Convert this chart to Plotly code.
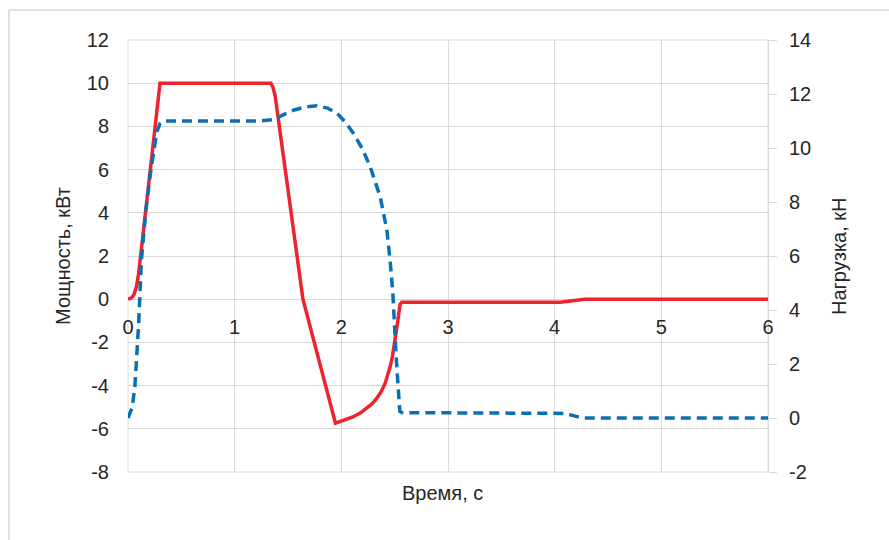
import plotly.graph_objects as go

# Power (kW) - left axis
t_power = [0, 0.03, 0.055, 0.08, 0.1, 0.2, 0.3, 1.34, 1.36, 1.38, 1.64, 1.945,
           2.03, 2.114, 2.18, 2.24, 2.29, 2.333, 2.375, 2.411, 2.437, 2.458, 2.478,
           2.495, 2.511, 2.526, 2.54, 2.552, 2.567, 4.05, 4.15, 4.28, 6.0]
power_kw = [0, 0.05, 0.2, 0.6, 1.2, 5.6, 10.0, 10.0, 9.8, 9.4, 0.0, -5.74,
            -5.6, -5.44, -5.26, -5.05, -4.84, -4.58, -4.27, -3.89, -3.52, -3.12, -2.68,
            -2.2, -1.68, -1.12, -0.62, -0.22, -0.14, -0.14, -0.08, 0.0, 0.0]

# Load (kN) - right axis
t_load = [0, 0.04, 0.065, 0.08, 0.1, 0.125, 0.165, 0.21, 0.27, 0.3, 0.33, 1.24, 1.37,
          1.45, 1.55, 1.66, 1.77, 1.87, 1.96, 2.04, 2.114, 2.2, 2.27, 2.364, 2.427,
          2.458, 2.483, 2.514, 2.548, 2.567, 4.0, 4.1, 4.2, 4.28, 6.0]
load_kn = [0, 0.4, 1.2, 2.1, 3.5, 5.8, 7.6, 9.05, 10.6, 10.9, 11.0, 11.0, 11.05,
           11.22, 11.4, 11.52, 11.56, 11.48, 11.28, 10.95, 10.54, 9.95, 9.31, 8.2, 6.96,
           5.8, 4.62, 2.27, 0.25, 0.2, 0.2, 0.17, 0.06, 0.0, 0.0]

x_ticks = [0, 1, 2, 3, 4, 5, 6]
y_left_ticks = [-8, -6, -4, -2, 0, 2, 4, 6, 8, 10, 12]
y_right_ticks = [-2, 0, 2, 4, 6, 8, 10, 12, 14]

FONT = "Liberation Sans"
TXT = "#262626"
GRID = "#d9d9d9"

fig = go.Figure()
fig.add_trace(go.Scatter(x=t_power, y=power_kw, mode="lines", yaxis="y",
                         line=dict(color="#ee2330", width=3.5), showlegend=False))
fig.add_trace(go.Scatter(x=t_load, y=load_kn, mode="lines", yaxis="y2",
                         line=dict(color="#0a70b4", width=3.5, dash="10px,6px"),
                         showlegend=False))

L, R, T, B = 128, 121, 40, 68
W, H = 889, 540
pw, ph = W - L - R, H - T - B

def px_x(p):
    return (p - L) / pw

def px_y(p):
    return (H - B - p) / ph

def lab(v):
    return str(v)  # plain hyphen-minus like the reference

fig.update_layout(
    width=W, height=H,
    margin=dict(l=L, r=R, t=T, b=B, pad=0),
    paper_bgcolor="white", plot_bgcolor="white",
    font=dict(family=FONT, size=20, color=TXT),
    xaxis=dict(range=[0, 6], tickvals=x_ticks, ticktext=[lab(v) for v in x_ticks],
               showgrid=True, gridcolor=GRID,
               gridwidth=1, zeroline=False, showline=False, ticks="",
               anchor="free", position=0.4, ticklabelstandoff=14,
               tickfont=dict(size=20, family=FONT, color=TXT)),
    yaxis=dict(range=[-8, 12], tickvals=y_left_ticks,
               ticktext=[lab(v) for v in y_left_ticks],
               showgrid=True, gridcolor=GRID,
               gridwidth=1, zeroline=False, showline=False, ticks="",
               ticklabelstandoff=18, tickfont=dict(size=20, family=FONT, color=TXT)),
    yaxis2=dict(range=[-2, 14], tickvals=y_right_ticks,
                ticktext=[lab(v) for v in y_right_ticks],
                overlaying="y", side="right",
                showgrid=False, zeroline=False, showline=True, linecolor=GRID,
                linewidth=1, ticks="outside", ticklen=8, tickcolor=GRID,
                ticklabelstandoff=8, tickfont=dict(size=20, family=FONT, color=TXT)),
    shapes=[
        dict(type="rect", xref="paper", yref="paper", x0=0, x1=1, y0=0, y1=1,
             line=dict(color=GRID, width=1), layer="below"),
        dict(type="line", xref="paper", yref="paper", x0=px_x(9), x1=px_x(W + 5),
             y0=px_y(10), y1=px_y(10), line=dict(color=GRID, width=1.5)),
        dict(type="line", xref="paper", yref="paper", x0=px_x(9), x1=px_x(9),
             y0=px_y(10), y1=px_y(H + 5), line=dict(color=GRID, width=1.5)),
    ],
    annotations=[
        dict(text="Время, с", xref="paper", yref="paper", x=px_x(442), y=px_y(493),
             showarrow=False, xanchor="center", yanchor="middle",
             font=dict(size=20, family=FONT, color=TXT)),
        dict(text="Мощность, кВт", xref="paper", yref="paper", x=px_x(63), y=px_y(256),
             showarrow=False, textangle=-90, xanchor="center", yanchor="middle",
             font=dict(size=20, family=FONT, color=TXT)),
        dict(text="Нагрузка, кН", xref="paper", yref="paper", x=px_x(839), y=px_y(256),
             showarrow=False, textangle=-90, xanchor="center", yanchor="middle",
             font=dict(size=20, family=FONT, color=TXT)),
    ],
)

fig.write_html("out.html")
